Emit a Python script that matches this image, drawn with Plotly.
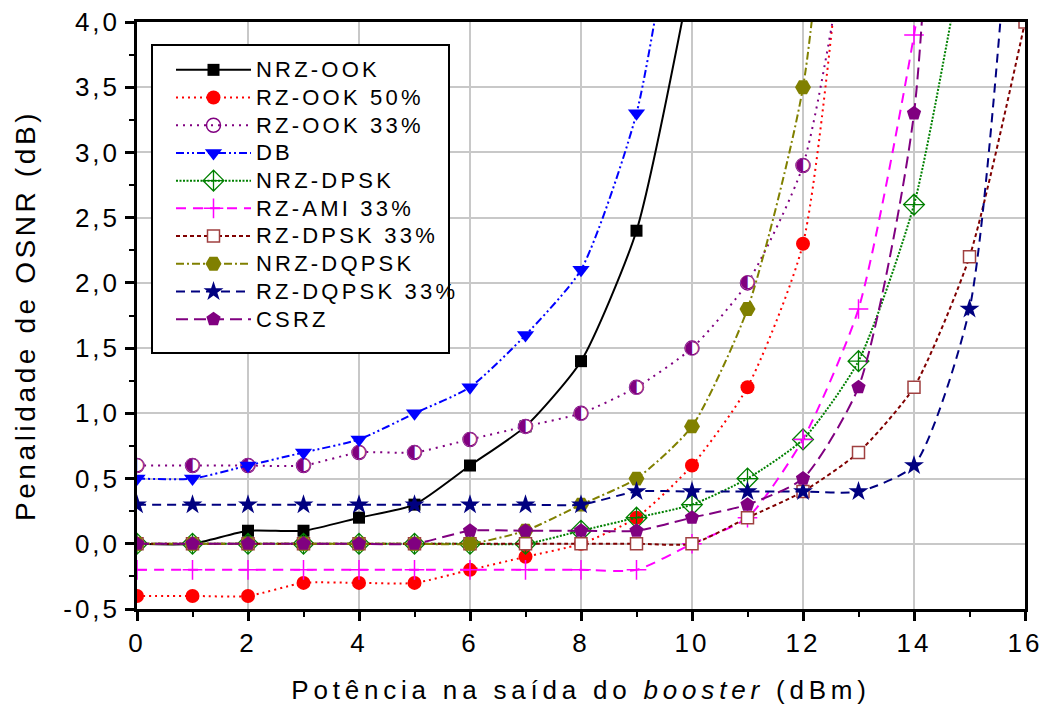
import plotly.graph_objects as go

# Booster output power (dBm)
power = list(range(0, 17))

# OSNR penalty (dB) per modulation format; None = not measured
nrz_ook = [0.0, 0.0, 0.1, 0.1, 0.2, 0.3, 0.6, 0.9, 1.4, 2.4, 4.4, None, None, None, None, None, None]
rz_ook_50 = [-0.4, -0.4, -0.4, -0.3, -0.3, -0.3, -0.2, -0.1, 0.0, 0.2, 0.6, 1.2, 2.3, 6.0, None, None, None]
rz_ook_33 = [0.6, 0.6, 0.6, 0.6, 0.7, 0.7, 0.8, 0.9, 1.0, 1.2, 1.5, 2.0, 2.9, 5.2, None, None, None]
db = [0.5, 0.5, 0.6, 0.7, 0.8, 1.0, 1.2, 1.6, 2.1, 3.3, 5.8, None, None, None, None, None, None]
nrz_dpsk = [0.0, 0.0, 0.0, 0.0, 0.0, 0.0, 0.0, 0.0, 0.1, 0.2, 0.3, 0.5, 0.8, 1.4, 2.6, 4.8, None]
rz_ami_33 = [-0.2, -0.2, -0.2, -0.2, -0.2, -0.2, -0.2, -0.2, -0.2, -0.2, 0.0, 0.2, 0.8, 1.8, 3.9, 7.0, None]
rz_dpsk_33 = [0.0, 0.0, 0.0, 0.0, 0.0, 0.0, 0.0, 0.0, 0.0, 0.0, 0.0, 0.2, 0.4, 0.7, 1.2, 2.2, 4.0]
nrz_dqpsk = [0.0, 0.0, 0.0, 0.0, 0.0, 0.0, 0.0, 0.1, 0.3, 0.5, 0.9, 1.8, 3.5, 8.0, None, None, None]
rz_dqpsk_33 = [0.3, 0.3, 0.3, 0.3, 0.3, 0.3, 0.3, 0.3, 0.3, 0.4, 0.4, 0.4, 0.4, 0.4, 0.6, 1.8, 6.5]
csrz = [0.0, 0.0, 0.0, 0.0, 0.0, 0.0, 0.1, 0.1, 0.1, 0.1, 0.2, 0.3, 0.5, 1.2, 3.3, 13.0, None]

series_names = ["NRZ-OOK", "RZ-OOK 50%", "RZ-OOK 33%", "DB", "NRZ-DPSK",
                "RZ-AMI 33%", "RZ-DPSK 33%", "NRZ-DQPSK", "RZ-DQPSK 33%", "CSRZ"]

x_ticks = [0, 2, 4, 6, 8, 10, 12, 14, 16]
x_tick_labels = ["0", "2", "4", "6", "8", "10", "12", "14", "16"]
y_ticks = [-0.5, 0.0, 0.5, 1.0, 1.5, 2.0, 2.5, 3.0, 3.5, 4.0]
y_tick_labels = ["-0,5", "0,0", "0,5", "1,0", "1,5", "2,0", "2,5", "3,0", "3,5", "4,0"]

FONT = "Liberation Sans, Arial, sans-serif"

# plot area in pixels, used to place the legend frame
W, H = 1045, 706
ML, MR, MT, MB = 137, 20, 22, 97
PW, PH = W - ML - MR, H - MT - MB
Y_MAX = 4.0


def px_x(p):
    return (p - ML) / PW


def px_y(p):
    return (H - MB - p) / PH


def spaced(text, px, size=None):
    fs = f";font-size:{size}px" if size else ""
    return f'<span style="letter-spacing:{px}px{fs}">{text}</span>'


PURPLE = "#800080"

styles = [
    dict(color="#000000", dash="solid", marker=dict(symbol="square", size=12, color="#000000")),
    dict(color="#ff0000", dash="2px,4px", marker=dict(symbol="circle", size=14, color="#ff0000")),
    dict(color=PURPLE, dash="2px,5px",
         marker=dict(symbol="circle", size=14, color="rgba(255,255,255,0)", line=dict(color=PURPLE, width=1.5))),
    dict(color="#0000ff", dash="8px,3px,2px,3px,2px,3px", marker=dict(symbol="triangle-down", size=15, color="#0000ff")),
    dict(color="#008000", dash="2px,1.5px",
         marker=dict(symbol="diamond-cross-open", size=16, color="#008000", line=dict(width=1.3))),
    dict(color="#ff00ff", dash="10px,7px",
         marker=dict(symbol="cross-thin-open", size=14, color="#ff00ff", line=dict(width=1.5))),
    dict(color="#800000", dash="4px,3px",
         marker=dict(symbol="square", size=12, color="white", line=dict(color="#a04040", width=1.5))),
    dict(color="#808000", dash="8px,3px,2px,3px", marker=dict(symbol="hexagon2", size=16, color="#808000")),
    dict(color="#000080", dash="9px,6px", marker=dict(symbol="star", size=15, color="#000080")),
    dict(color=PURPLE, dash="12px,6px", marker=dict(symbol="pentagon", size=15, color=PURPLE)),
]

all_series = [nrz_ook, rz_ook_50, rz_ook_33, db, nrz_dpsk, rz_ami_33, rz_dpsk_33,
              nrz_dqpsk, rz_dqpsk_33, csrz]

fig = go.Figure()
for name, ys, st in zip(series_names, all_series, styles):
    fig.add_trace(go.Scatter(
        x=power, y=ys, name=spaced(name, 3.2, 22), mode="lines+markers",
        line=dict(color=st["color"], dash=st["dash"], width=2, shape="spline", smoothing=0.6),
        marker=st["marker"],
    ))
    if name == "RZ-OOK 33%":
        # half-filled circle symbol: a white disc with a left-half-filled circle on top
        vis = [(x, y) for x, y in zip(power, ys) if y is not None and y <= Y_MAX]
        for glyph, colour in (("●", "white"), ("◐", PURPLE)):
            fig.add_trace(go.Scatter(
                x=[p[0] for p in vis], y=[p[1] for p in vis], mode="text",
                text=[glyph] * len(vis), textposition="middle center",
                textfont=dict(family="DejaVu Sans", size=18, color=colour),
                showlegend=False, hoverinfo="skip", cliponaxis=True,
            ))

axis_common = dict(
    showline=True, linecolor="black", linewidth=2.5, mirror=True,
    ticks="outside", tickcolor="black", tickwidth=2.5, ticklen=9,
    showgrid=True, gridcolor="#c8c8c8", gridwidth=1.5, zeroline=False,
    tickfont=dict(family=FONT, size=26, color="black"), automargin=False,
)

fig.update_xaxes(
    range=[0, 16], tickvals=x_ticks, ticktext=[spaced(t, 3) for t in x_tick_labels],
    minor=dict(dtick=1, ticklen=5, tickwidth=2, tickcolor="black", showgrid=False, ticks="outside"),
    title=dict(text=spaced("Potência na saída do <i>booster</i> (dBm)", 4.8),
               font=dict(family=FONT, size=26, color="black"), standoff=24),
    **axis_common,
)
fig.update_yaxes(
    range=[-0.5, Y_MAX], tickvals=y_ticks, ticktext=[spaced(t, 3) for t in y_tick_labels],
    minor=dict(dtick=0.25, ticklen=5, tickwidth=2, tickcolor="black", showgrid=False, ticks="outside"),
    title=dict(text=spaced("Penalidade de OSNR (dB)", 3.6),
               font=dict(family=FONT, size=28, color="black"), standoff=20),
    **axis_common,
)

# legend frame
fig.add_shape(
    type="rect", xref="paper", yref="paper",
    x0=px_x(152), x1=px_x(449), y0=px_y(353), y1=px_y(45),
    line=dict(color="black", width=2), fillcolor="white", layer="above",
)

fig.update_layout(
    width=W, height=H,
    margin=dict(l=ML, r=MR, t=MT, b=MB, autoexpand=False),
    paper_bgcolor="white", plot_bgcolor="white",
    font=dict(family=FONT, color="black"),
    legend=dict(
        x=px_x(171), y=px_y(51), xanchor="left", yanchor="top",
        bgcolor="rgba(0,0,0,0)", borderwidth=0,
        font=dict(family=FONT, size=19, color="black"),
        itemwidth=75, traceorder="normal",
    ),
    showlegend=True,
)

fig.write_html("out.html")
